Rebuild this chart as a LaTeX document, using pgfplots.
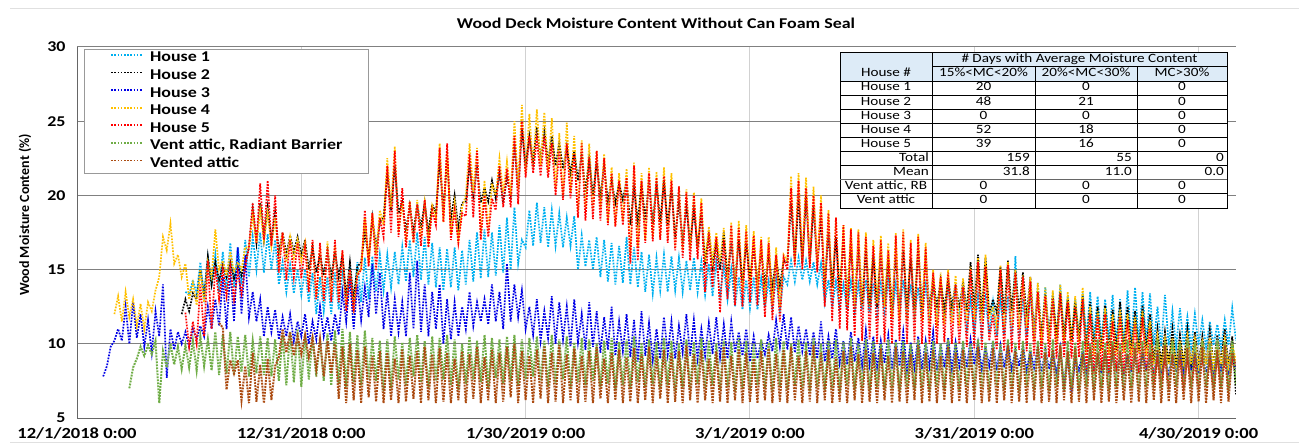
\documentclass[border=0pt]{standalone}
\usepackage{pgfplots}
\pgfplotsset{compat=1.18}
\usepackage{pgfplotstable}
\usepackage{fontspec}
\setmainfont{Carlito}[FakeStretch=1.2]
\newfontfamily\plainfont{Carlito}
\definecolor{cHa}{HTML}{00B0F0}
\definecolor{cHb}{HTML}{000000}
\definecolor{cHc}{HTML}{0000E6}
\definecolor{cHd}{HTML}{FFC000}
\definecolor{cHe}{HTML}{FF0000}
\definecolor{cG}{HTML}{70AD47}
\definecolor{cB}{RGB}{172,76,18}
\definecolor{hdr}{HTML}{DDEBF7}

\pgfplotstableread{
d h1 h2 h3 h4 h5 g b
3.5 nan nan 7.8 nan nan nan nan
4.0 nan nan 8.5 nan nan nan nan
4.5 nan nan 9.8 nan nan nan nan
5.0 nan nan 10.2 12.0 nan nan nan
5.5 nan nan 11.0 13.2 nan nan nan
6.0 nan nan 10.2 11.5 nan nan nan
6.5 nan nan 12.5 13.5 nan nan nan
7.0 nan nan 10.0 11.8 nan 7.0 nan
7.5 nan nan 12.8 13.0 nan 8.4 nan
8.0 nan nan 10.4 11.2 nan 9.0 nan
8.5 nan nan 12.0 12.7 nan 9.8 nan
9.0 nan nan 9.8 11.0 nan 9.2 nan
9.5 nan nan 11.6 12.8 nan 9.9 nan
10.0 nan nan 9.4 12.2 nan 9.3 nan
10.5 nan nan 12.2 13.6 nan 10.2 nan
11.0 nan nan 10.5 14.5 nan 6.0 nan
11.5 nan nan 14.0 17.2 nan 9.5 nan
12.0 nan nan 7.7 16.3 nan 8.4 nan
12.5 nan nan 11.0 18.1 nan 10.0 nan
13.0 nan nan 9.6 15.4 nan 8.6 nan
13.5 nan nan 10.8 16.0 nan 9.8 nan
14.0 nan 12.0 10.0 14.5 nan 8.3 nan
14.5 13.5 13.0 10.8 15.4 12.1 9.9 nan
15.0 13.3 12.2 9.8 13.0 9.8 8.4 nan
15.5 14.3 13.4 11.0 14.1 11.5 10.2 nan
16.0 13.4 13.0 10.3 12.6 10.0 8.2 nan
16.5 15.5 15.0 11.2 15.0 14.0 10.5 nan
17.0 13.2 13.2 10.5 12.8 10.5 8.5 nan
17.5 15.8 15.9 12.5 15.5 15.6 10.3 nan
18.0 14.0 14.0 11.0 14.5 11.0 8.2 nan
18.5 16.0 15.5 13.0 17.7 15.2 10.8 nan
19.0 13.5 14.3 11.2 15.0 13.0 7.9 11.4
19.5 16.2 15.3 14.5 15.6 15.0 10.6 11.1
20.0 13.6 14.5 11.0 14.6 13.2 8.0 6.9
20.5 16.8 15.5 15.0 16.2 15.2 10.8 8.9
21.0 13.8 14.4 11.5 14.8 13.0 7.9 8.0
21.5 16.5 15.2 16.5 15.5 14.8 10.5 8.9
22.0 14.0 14.6 12.0 15.0 13.4 8.1 6.2
22.5 17.0 15.5 16.0 16.5 15.2 10.6 8.5
23.0 14.5 16.5 11.8 16.5 16.5 7.8 6.0
23.5 17.2 19.0 13.5 18.7 19.5 10.2 9.4
24.0 15.0 16.8 11.5 16.8 16.8 8.0 6.1
24.5 17.5 19.5 13.0 19.0 20.8 10.5 8.6
25.0 14.8 17.0 10.5 17.0 17.0 7.9 6.0
25.5 17.4 19.2 12.5 18.8 21.0 10.4 9.0
26.0 15.0 16.8 10.8 16.6 16.6 7.8 6.2
26.5 17.0 18.8 12.3 18.5 20.0 10.3 8.5
27.0 14.0 16.2 10.3 15.6 14.8 7.5 9.1
27.5 15.5 17.5 11.8 17.5 17.5 10.6 11.0
28.0 13.5 16.0 10.5 15.5 14.3 7.2 9.4
28.5 15.3 17.3 12.0 17.2 17.0 10.8 10.8
29.0 13.4 16.2 10.2 15.8 14.5 7.4 9.2
29.5 15.0 17.2 11.5 17.0 16.8 11.0 10.5
30.0 13.3 16.0 10.5 15.6 14.4 7.1 9.3
30.5 15.0 17.0 12.0 16.8 16.5 10.6 10.6
31.0 12.8 15.0 10.0 14.0 13.5 7.6 9.1
31.5 14.8 16.5 11.5 16.8 17.0 10.5 10.4
32.0 12.0 14.8 10.3 13.2 13.0 7.8 8.3
32.5 14.5 16.0 12.5 16.5 16.8 10.3 10.3
33.0 12.2 14.6 10.5 13.0 12.9 7.5 7.8
33.5 14.5 16.3 11.8 16.9 16.5 10.7 10.2
34.0 12.0 14.5 10.2 13.3 12.8 7.2 8.0
34.5 14.8 16.2 12.0 16.6 17.0 10.9 10.0
35.0 12.3 14.5 10.6 13.0 12.8 7.3 6.3
35.5 15.0 16.0 13.5 16.2 16.3 11.0 9.8
36.0 12.5 13.2 11.5 12.6 12.2 7.1 6.0
36.5 15.2 15.5 14.5 15.0 15.0 10.8 10.0
37.0 12.6 13.0 11.0 12.5 12.1 7.4 6.2
37.5 15.5 15.2 14.0 14.8 14.6 10.6 9.6
38.0 12.8 15.5 11.6 15.0 15.0 7.2 6.0
38.5 15.8 17.5 13.8 18.5 19.0 10.9 9.8
39.0 13.0 15.8 11.8 15.4 15.2 7.6 6.4
39.5 15.9 18.5 15.4 18.8 18.8 10.4 9.2
40.0 13.5 16.5 12.0 16.0 15.0 7.5 6.1
40.5 16.0 18.2 14.8 19.0 18.5 10.2 9.5
41.0 13.6 18.5 11.0 18.0 17.2 6.8 6.0
41.5 16.0 21.5 13.5 22.5 22.0 10.3 9.4
42.0 13.8 19.0 10.5 19.2 17.5 7.0 6.2
42.5 16.2 22.0 13.0 23.3 23.0 10.5 9.0
43.0 14.0 18.8 10.8 17.5 17.2 7.6 6.0
43.5 16.5 19.5 12.8 19.5 20.5 10.1 9.6
44.0 14.2 17.6 10.5 17.0 16.5 7.2 6.1
44.5 17.0 19.3 14.8 19.6 19.6 10.4 9.2
45.0 14.5 17.5 11.0 16.8 16.8 7.8 6.3
45.5 17.5 19.4 15.6 19.7 19.4 10.6 9.5
46.0 14.3 17.8 10.8 17.2 16.6 7.4 6.0
46.5 17.2 19.5 14.0 19.5 19.7 10.2 9.8
47.0 14.0 17.5 10.5 17.0 16.5 7.0 6.2
47.5 16.8 19.4 13.5 19.3 19.0 10.5 9.3
48.0 13.8 18.8 11.0 18.5 18.0 7.5 6.0
48.5 16.5 22.3 14.0 23.5 23.2 10.4 9.7
49.0 13.6 19.0 10.0 18.2 18.2 7.6 6.1
49.5 16.4 22.5 13.0 23.0 23.5 10.6 9.4
50.0 13.8 18.4 10.3 17.4 17.0 7.2 6.0
50.5 16.5 20.0 12.8 19.5 19.0 10.3 9.0
51.0 13.6 17.8 10.5 17.0 16.8 6.9 6.2
51.5 16.3 19.5 12.5 19.2 18.8 10.0 9.5
52.0 14.0 19.6 11.0 20.0 18.6 7.3 6.0
52.5 17.0 22.0 13.5 23.5 22.8 10.5 9.3
53.0 14.2 20.0 11.2 20.2 18.5 7.6 6.3
53.5 17.5 21.8 12.8 23.2 23.0 10.2 9.8
54.0 14.4 19.5 11.5 17.5 17.0 7.4 6.0
54.5 17.7 20.5 13.0 21.0 20.0 10.6 9.1
55.0 14.5 19.6 11.3 17.6 17.2 7.0 6.2
55.5 17.5 21.0 14.0 20.8 19.8 10.4 9.6
56.0 14.6 19.8 11.5 20.0 19.0 7.7 6.0
56.5 18.0 21.5 13.5 22.5 22.0 10.3 9.4
57.0 14.8 19.5 11.0 20.2 19.2 7.3 6.1
57.5 18.5 21.2 15.4 22.3 21.8 10.5 9.8
58.0 15.0 20.0 11.5 20.0 19.2 7.5 6.4
58.5 19.2 23.5 14.0 25.0 24.0 10.6 10.0
59.0 15.4 20.5 11.8 20.4 19.4 7.2 6.0
59.5 17.0 24.5 13.6 26.1 25.0 10.3 9.5
60.0 16.5 22.0 11.0 21.5 21.2 7.6 6.2
60.5 19.0 24.0 12.5 25.5 24.0 10.4 9.2
61.0 16.6 22.3 10.6 21.8 21.5 7.8 6.0
61.5 19.5 24.6 13.0 25.8 23.8 10.5 9.6
62.0 16.8 22.5 10.2 22.0 21.3 7.5 6.3
62.5 19.2 24.3 12.2 25.6 24.0 10.2 9.8
63.0 16.5 22.2 10.4 21.6 21.2 7.1 6.0
63.5 19.0 24.0 13.2 25.2 23.5 10.6 9.4
64.0 16.6 22.0 10.0 20.5 20.0 7.3 6.1
64.5 18.8 23.5 12.8 24.2 23.0 10.3 9.9
65.0 16.5 21.8 10.3 20.0 19.7 7.6 6.0
65.5 18.5 23.3 12.5 24.9 23.5 10.5 9.3
66.0 16.6 21.5 9.8 20.2 19.8 7.0 6.2
66.5 18.6 23.0 13.0 24.0 22.8 10.1 9.7
67.0 15.0 21.0 10.1 19.0 18.5 7.4 6.0
67.5 17.3 22.8 12.0 23.7 23.5 10.4 9.2
68.0 15.2 20.2 9.6 19.2 18.3 7.2 6.1
68.5 17.0 22.5 12.8 23.5 22.6 10.3 9.5
69.0 15.0 20.0 9.8 19.0 18.4 7.5 6.0
69.5 17.2 22.2 12.2 23.0 23.0 10.0 9.8
70.0 14.5 19.9 9.4 19.1 18.3 7.1 6.3
70.5 17.0 22.0 11.8 22.8 22.5 10.2 9.0
71.0 14.2 19.6 9.6 18.2 18.0 7.3 6.0
71.5 16.8 21.0 12.5 21.9 21.5 10.4 9.4
72.0 14.0 19.5 9.2 18.0 17.9 6.9 6.2
72.5 16.6 20.8 11.5 21.5 21.0 10.1 9.6
73.0 14.1 19.7 9.5 18.3 18.0 7.2 6.0
73.5 17.2 21.0 12.0 21.8 21.2 10.3 9.1
74.0 14.0 18.0 9.1 16.0 15.4 7.0 6.1
74.5 16.5 20.5 11.6 22.2 22.0 10.5 9.7
75.0 13.8 18.2 8.8 16.5 15.6 7.4 6.0
75.5 16.2 20.8 12.2 21.5 21.0 10.0 9.3
76.0 13.5 18.3 9.2 17.0 16.8 7.1 6.2
76.5 16.0 21.0 11.4 21.9 21.5 10.3 9.8
77.0 13.4 18.1 8.9 17.2 16.9 7.3 6.0
77.5 15.8 20.8 11.0 21.6 21.2 10.1 9.2
78.0 13.6 18.2 9.0 17.1 17.0 7.0 6.3
78.5 16.0 21.0 11.8 21.9 21.3 10.4 9.6
79.0 13.5 18.0 9.3 17.0 16.8 7.2 6.0
79.5 15.9 20.5 11.5 21.5 21.0 10.2 9.4
80.0 13.6 17.2 9.0 16.5 16.3 6.8 6.1
80.5 15.8 19.5 11.2 20.6 20.6 10.0 9.5
81.0 13.5 17.0 9.4 16.3 15.8 7.1 6.0
81.5 15.6 19.2 12.0 20.4 20.2 10.3 9.9
82.0 13.6 16.8 9.2 16.4 15.6 6.9 6.2
82.5 15.8 19.0 11.6 20.2 20.0 10.1 9.3
83.0 13.5 16.5 9.0 16.3 15.7 7.3 6.0
83.5 15.5 18.8 11.0 19.8 19.5 10.4 9.6
84.0 13.3 15.5 9.2 15.5 13.5 7.0 6.2
84.5 15.4 17.3 11.4 17.9 17.5 10.2 9.0
85.0 13.2 15.2 9.3 15.6 13.8 7.2 6.0
85.5 15.5 17.0 11.8 17.5 17.2 10.0 9.5
86.0 13.3 15.0 9.1 15.5 12.1 6.9 6.1
86.5 15.2 17.5 11.3 17.8 17.0 10.3 9.8
87.0 13.0 14.5 9.0 14.0 13.0 7.1 6.0
87.5 15.0 16.8 11.5 18.2 18.0 10.1 9.2
88.0 12.5 14.2 9.4 13.6 12.6 6.8 6.2
88.5 14.5 17.0 10.8 18.3 17.8 10.4 9.6
89.0 12.3 14.1 9.2 13.5 12.5 7.0 6.0
89.5 14.3 16.8 11.0 18.0 17.6 10.2 9.4
90.0 12.4 14.3 8.8 13.8 12.8 6.9 6.1
90.5 14.5 16.5 10.5 17.6 17.3 10.0 9.0
91.0 12.3 14.1 9.0 13.5 12.6 7.2 6.0
91.5 14.4 16.3 10.2 17.2 17.0 10.3 9.5
92.0 12.5 14.0 9.3 12.8 11.8 7.0 6.2
92.5 14.2 16.0 10.6 17.2 16.8 10.1 9.7
93.0 12.4 13.8 9.5 12.6 11.6 6.8 6.0
93.5 14.4 15.8 11.6 16.5 16.0 10.4 9.3
94.0 12.3 13.9 9.8 12.5 11.5 7.1 6.1
94.5 14.5 15.6 12.0 16.0 15.8 10.2 9.6
95.0 14.0 15.5 9.6 15.6 15.0 6.9 6.0
95.5 15.6 19.5 11.8 21.3 20.5 10.0 9.8
96.0 14.2 15.6 9.4 15.5 15.2 7.2 6.2
96.5 15.8 19.8 11.2 21.5 21.0 10.3 9.2
97.0 14.3 15.4 9.5 15.6 15.0 7.0 6.0
97.5 15.6 20.0 11.0 21.2 20.5 10.1 9.5
98.0 14.2 15.5 9.2 15.4 15.1 6.8 6.1
98.5 15.5 19.3 10.8 20.6 20.0 10.4 9.9
99.0 14.0 15.4 9.0 15.3 14.8 7.1 6.0
99.5 15.4 18.5 11.5 20.0 19.5 10.0 9.4
100.0 12.8 14.0 8.8 13.5 12.5 6.9 6.2
100.5 14.3 17.5 10.5 19.0 18.8 10.2 9.6
101.0 12.5 13.8 9.0 13.2 11.5 7.0 6.0
101.5 14.2 17.2 11.0 18.5 18.5 10.3 9.1
102.0 12.4 13.5 8.7 13.0 11.0 6.7 6.1
102.5 14.0 17.0 10.2 18.0 18.0 10.1 9.5
103.0 12.3 13.2 8.6 12.6 10.9 7.2 6.0
103.5 14.2 16.8 10.8 17.8 17.7 10.4 9.8
104.0 12.2 12.9 8.8 12.5 10.5 6.9 6.2
104.5 14.0 16.5 10.4 17.7 17.5 10.0 9.3
105.0 12.3 12.7 8.5 12.6 10.2 7.0 6.0
105.5 14.3 16.3 10.9 17.5 17.2 10.3 9.6
106.0 12.1 12.6 8.6 12.5 10.3 6.8 6.1
106.5 14.1 16.0 10.5 17.0 16.6 10.2 9.4
107.0 12.0 12.5 8.4 12.7 10.0 7.1 6.0
107.5 14.0 16.2 10.2 17.3 17.0 10.0 9.7
108.0 12.2 12.6 8.7 12.5 10.1 6.9 6.2
108.5 14.2 15.8 10.6 16.8 16.3 10.3 9.2
109.0 12.0 12.4 8.3 11.8 10.0 7.0 6.0
109.5 14.0 16.0 10.3 17.5 17.3 10.1 9.8
110.0 12.1 12.3 8.5 11.6 10.2 6.8 6.1
110.5 14.3 16.3 10.8 17.7 17.5 10.2 9.5
111.0 12.0 12.5 8.2 11.5 10.0 7.1 6.0
111.5 14.0 15.8 10.1 17.0 16.8 10.0 9.3
112.0 11.9 12.3 8.4 11.6 10.1 6.9 6.2
112.5 13.8 16.4 10.5 17.4 17.2 10.3 9.9
113.0 11.8 12.4 8.3 11.5 10.0 7.0 6.0
113.5 13.9 16.0 10.2 16.8 16.5 10.1 9.4
114.0 11.9 12.3 8.5 11.3 10.0 6.8 6.1
114.5 14.0 14.5 10.8 15.0 14.8 10.2 9.6
115.0 11.8 12.4 8.2 11.2 10.0 7.1 6.0
115.5 13.8 14.3 10.0 14.8 14.5 10.0 9.2
116.0 11.9 12.3 8.4 11.3 10.1 6.9 6.2
116.5 13.9 14.4 10.4 15.0 14.8 10.3 9.8
117.0 11.8 12.5 8.3 11.4 10.0 7.0 6.0
117.5 13.7 14.0 10.1 14.6 14.0 10.1 9.4
118.0 11.9 12.4 8.5 11.2 10.0 6.8 6.1
118.5 13.6 14.2 10.0 14.4 13.8 10.2 9.6
119.0 11.0 12.2 8.4 11.5 9.8 7.1 6.0
119.5 13.0 15.5 10.3 15.2 15.0 10.0 9.5
120.0 10.8 12.3 8.6 11.6 9.7 6.9 6.2
120.5 13.2 16.0 10.1 15.8 15.5 10.3 9.8
121.0 10.6 12.0 8.3 11.5 9.6 7.0 6.0
121.5 13.0 15.8 9.8 16.0 15.2 10.1 9.3
122.0 10.7 12.0 8.5 11.8 10.2 6.8 6.1
122.5 12.8 13.0 10.2 12.5 12.0 10.2 9.7
123.0 10.5 12.1 8.2 11.2 9.6 7.1 6.0
123.5 13.0 15.2 9.9 15.3 15.0 10.0 9.4
124.0 10.6 12.0 8.4 11.0 9.5 6.9 6.2
124.5 13.2 15.6 10.0 15.5 15.3 10.3 9.9
125.0 10.5 12.2 8.3 11.2 9.4 7.0 6.0
125.5 15.9 15.0 9.6 15.0 14.8 10.1 9.5
126.0 10.4 12.0 8.5 11.0 9.6 6.8 6.1
126.5 13.0 14.8 9.9 14.6 14.5 10.2 9.6
127.0 10.5 11.8 8.2 11.1 9.5 7.1 6.0
127.5 13.5 14.5 9.5 14.5 14.2 10.0 9.3
128.0 10.4 10.8 8.4 10.2 9.2 6.9 6.2
128.5 14.1 13.5 9.8 14.1 13.5 10.2 9.8
129.0 10.3 10.6 8.1 10.0 9.0 7.0 6.0
129.5 13.8 13.3 9.6 13.8 13.2 10.1 9.4
130.0 10.4 10.5 8.3 10.1 9.1 6.8 6.1
130.5 13.5 13.2 9.4 13.6 13.0 10.3 9.6
131.0 10.3 10.4 8.0 10.0 9.0 7.1 6.0
131.5 14.0 13.5 9.7 14.0 13.4 10.0 9.9
132.0 10.5 10.3 7.2 10.2 9.1 6.9 6.2
132.5 13.2 13.0 9.2 13.5 12.8 10.2 9.5
133.0 10.3 10.2 6.7 10.0 9.0 7.0 6.0
133.5 13.0 12.8 9.0 13.2 12.5 10.1 9.7
134.0 10.4 10.3 8.2 10.1 9.1 6.8 6.1
134.5 13.4 13.2 9.5 13.8 13.0 10.2 9.3
135.0 10.3 9.6 8.0 9.3 8.1 7.1 6.0
135.5 13.5 12.8 9.3 12.5 12.0 10.0 9.8
136.0 10.3 9.5 8.2 9.2 8.0 6.9 6.2
136.5 13.2 12.5 9.1 12.2 11.8 10.3 9.4
137.0 10.2 9.6 8.0 9.4 8.2 7.0 6.0
137.5 13.0 12.6 9.4 12.4 12.0 10.1 9.6
138.0 10.3 9.5 8.1 9.3 8.0 6.8 6.1
138.5 13.3 12.3 9.2 12.0 11.5 10.2 9.9
139.0 10.1 9.6 8.2 9.2 8.1 7.1 6.0
139.5 13.0 12.8 9.0 12.3 11.8 10.0 9.5
140.0 10.0 9.5 8.0 9.4 8.0 6.9 6.2
140.5 13.6 12.5 9.3 12.0 11.6 10.3 9.3
141.0 10.1 9.6 8.1 9.2 8.2 7.0 6.0
141.5 13.8 12.2 9.1 11.8 11.3 10.1 9.7
142.0 10.0 9.5 8.0 9.3 8.0 6.8 6.1
142.5 13.5 12.6 9.4 12.2 11.8 10.2 9.8
143.0 10.1 9.6 8.2 9.2 8.1 7.1 6.0
143.5 13.4 12.0 9.2 11.5 11.0 10.0 9.4
144.0 9.9 8.8 8.0 8.6 7.4 6.9 6.2
144.5 12.5 11.0 9.3 10.5 9.1 10.3 9.6
145.0 9.8 8.6 8.1 8.5 7.3 7.0 6.0
145.5 13.3 10.8 9.0 10.3 9.0 10.1 9.9
146.0 9.9 8.7 8.0 8.6 7.2 6.8 6.1
146.5 12.2 11.0 9.2 10.4 9.1 10.2 9.3
147.0 9.8 8.5 8.1 8.5 7.4 7.1 6.0
147.5 12.4 10.6 9.4 10.2 8.9 10.0 9.6
148.0 9.9 8.6 8.0 8.7 7.1 6.9 6.2
148.5 11.8 11.0 9.1 10.5 9.0 10.3 9.7
149.0 9.8 8.5 8.2 8.6 7.3 7.0 6.0
149.5 12.0 10.8 9.3 10.3 8.8 10.1 9.4
150.0 9.9 8.7 8.0 8.5 7.2 6.8 6.1
150.5 11.6 10.5 9.0 10.1 9.0 10.2 9.8
151.0 9.8 8.6 8.1 8.6 7.4 7.1 6.0
151.5 11.5 10.9 9.2 10.4 8.9 10.0 9.5
152.0 9.9 8.5 8.0 8.5 7.1 6.9 6.2
152.5 11.3 10.6 9.3 10.2 9.1 10.3 9.6
153.0 9.8 8.7 8.2 8.6 7.3 7.0 6.0
153.5 11.6 11.0 9.0 10.3 8.8 10.1 9.9
154.0 9.9 8.6 8.1 8.5 7.2 6.8 6.1
154.5 12.4 10.5 9.2 10.0 9.0 10.2 9.4
155.0 10.2 6.6 8.3 8.8 7.8 7.2 8.5
}\data

\tikzset{
  tb/.style={font=\fontsize{12.7}{12.7}\selectfont, inner sep=0pt, text height=8.5bp, text depth=2.5bp},
  dl/.style={dash pattern=on 1.7bp off 1.3bp, line width=1.7bp},
  dlb/.style={dash pattern=on 1.9bp off 1.1bp, line width=2.0bp}
}

\begin{document}
\begin{tikzpicture}
\path[use as bounding box] (0,0) rectangle (1299bp,444bp);
\draw[black!12, line width=0.8bp] (10bp,436bp) -- (1299bp,436bp);
\draw[black!12, line width=0.8bp] (10bp,1.3bp) -- (1299bp,1.3bp);
\begin{axis}[
  at={(77bp,26bp)}, anchor=south west,
  scale only axis, width=1159bp, height=371bp,
  xmin=0, xmax=155, ymin=5, ymax=30,
  xtick={0,30,60,90,120,150},
  xticklabels={12/1/2018 0:00,12/31/2018 0:00,1/30/2019 0:00,3/1/2019 0:00,3/31/2019 0:00,4/30/2019 0:00},
  ytick={5,10,15,20,25,30},
  /pgf/number format/assume math mode=true,
  axis lines=left,
  axis line style={-, draw=black!60, line width=1bp},
  major tick length=0pt,
  ymajorgrids, xmajorgrids,
  y grid style={black!50, line width=1bp},
  x grid style={black!18, line width=1bp},
  x tick label style={font=\fontsize{15.5}{15.5}\selectfont\bfseries, yshift=-6bp},
  y tick label style={font=\fontsize{15}{15}\selectfont\bfseries, xshift=-8bp},
  legend style={at={(axis description cs:0.00604,0.9946)}, anchor=north west,
    draw=black!40, line width=0.8bp, fill=white,
    inner xsep=26bp, inner ysep=2.5bp, row sep=4.6bp,
    font=\fontsize{15}{15}\selectfont\bfseries,
    nodes={inner sep=0bp, text height=10bp, text depth=3bp, anchor=west},
    /tikz/every odd column/.append style={column sep=6bp},
    /tikz/every even column/.append style={column sep=0bp}},
  legend cell align=left,
  legend image code/.code={\draw[#1, draw=., line width=1.7bp, dash pattern=on 1.6bp off 1.6bp] (0bp,3.5bp) -- (32bp,3.5bp);},
]
\addplot[cHa, dl] table[x=d, y=h1] {\data};
\addlegendentry{House 1}
\addplot[cHb, dl] table[x=d, y=h2] {\data};
\addlegendentry{House 2}
\addplot[cHc, dl] table[x=d, y=h3] {\data};
\addlegendentry{House 3}
\addplot[cHd, dl] table[x=d, y=h4] {\data};
\addlegendentry{House 4}
\addplot[cHe, dl] table[x=d, y=h5] {\data};
\addlegendentry{House 5}
\addplot[cG, dlb] table[x=d, y=g] {\data};
\addlegendentry{Vent attic, Radiant Barrier}
\addplot[cB, dlb] table[x=d, y=b] {\data};
\addlegendentry{Vented attic}
\end{axis}

\node[font=\fontsize{15}{15}\selectfont\bfseries] at (656bp,421bp) {Wood Deck Moisture Content Without Can Foam Seal};
\node[rotate=90, font=\plainfont\fontsize{14}{14}\selectfont\bfseries] at (25bp,229bp) {Wood Moisture Content (\%)};

% table
\fill[white] (840bp,235.98bp) rectangle (1227bp,391.3bp);
\fill[hdr] (840bp,363.06bp) rectangle (1227bp,391.3bp);
\draw[black, line width=0.8bp] (840bp,235.98bp) rectangle (1227bp,391.3bp);
\draw[black, line width=0.8bp] (932bp,377.18bp) -- (1227bp,377.18bp);
\foreach \yy in {363.06,348.94,334.82,320.70,306.58,292.46,278.34,264.22,250.10}
  \draw[black, line width=0.8bp] (840bp,\yy bp) -- (1227bp,\yy bp);
\draw[black, line width=1.3bp] (840bp,320.70bp) -- (1227bp,320.70bp);
\draw[black, line width=1.3bp] (840bp,306.58bp) -- (1227bp,306.58bp);
\draw[black!60, line width=1.3bp] (840bp,264.22bp) -- (1227bp,264.22bp);
\draw[black, line width=0.8bp] (932bp,235.98bp) -- (932bp,391.3bp);
\draw[black, line width=0.8bp] (1035bp,235.98bp) -- (1035bp,377.18bp);
\draw[black, line width=0.8bp] (1137bp,235.98bp) -- (1137bp,377.18bp);

\node[tb] at (1079.5bp,384.24bp) {\# Days with Average Moisture Content};
\node[tb] at (886bp,370.12bp) {House \#};
\node[tb] at (983.5bp,370.12bp) {15\%<MC<20\%};
\node[tb] at (1086bp,370.12bp) {20\%<MC<30\%};
\node[tb] at (1182bp,370.12bp) {MC>30\%};

\node[tb] at (886bp,356.0bp) {House 1};
\node[tb] at (983.5bp,356.0bp) {20};
\node[tb] at (1086bp,356.0bp) {0};
\node[tb] at (1182bp,356.0bp) {0};

\node[tb] at (886bp,341.88bp) {House 2};
\node[tb] at (983.5bp,341.88bp) {48};
\node[tb] at (1086bp,341.88bp) {21};
\node[tb] at (1182bp,341.88bp) {0};

\node[tb] at (886bp,327.76bp) {House 3};
\node[tb] at (983.5bp,327.76bp) {0};
\node[tb] at (1086bp,327.76bp) {0};
\node[tb] at (1182bp,327.76bp) {0};

\node[tb] at (886bp,313.64bp) {House 4};
\node[tb] at (983.5bp,313.64bp) {52};
\node[tb] at (1086bp,313.64bp) {18};
\node[tb] at (1182bp,313.64bp) {0};

\node[tb] at (886bp,299.52bp) {House 5};
\node[tb] at (983.5bp,299.52bp) {39};
\node[tb] at (1086bp,299.52bp) {16};
\node[tb] at (1182bp,299.52bp) {0};

\node[tb, anchor=east] at (929bp,285.4bp) {Total};
\node[tb, anchor=east] at (1030bp,285.4bp) {159};
\node[tb, anchor=east] at (1132bp,285.4bp) {55};
\node[tb, anchor=east] at (1224bp,285.4bp) {0};

\node[tb, anchor=east] at (929bp,271.28bp) {Mean};
\node[tb, anchor=east] at (1030bp,271.28bp) {31.8};
\node[tb, anchor=east] at (1132bp,271.28bp) {11.0};
\node[tb, anchor=east] at (1224bp,271.28bp) {0.0};

\node[tb] at (886bp,257.16bp) {Vent attic, RB};
\node[tb] at (983.5bp,257.16bp) {0};
\node[tb] at (1086bp,257.16bp) {0};
\node[tb] at (1182bp,257.16bp) {0};

\node[tb] at (886bp,243.04bp) {Vent attic};
\node[tb] at (983.5bp,243.04bp) {0};
\node[tb] at (1086bp,243.04bp) {0};
\node[tb] at (1182bp,243.04bp) {0};
\end{tikzpicture}
\end{document}
